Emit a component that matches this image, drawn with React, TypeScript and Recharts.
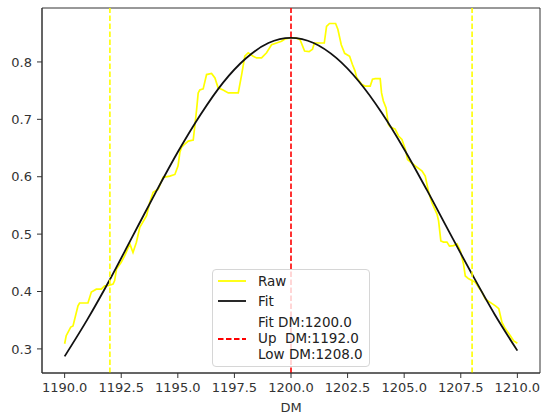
import React from 'react'
import {
  LineChart,
  Line,
  XAxis,
  YAxis,
  ReferenceLine,
  ReferenceArea,
  Legend,
} from 'recharts'

// raw profile
const rawDm = [
  1190.0, 1190.07, 1190.27, 1190.37, 1190.59, 1190.66, 1191.03, 1191.18, 1191.4, 1191.62,
  1191.77, 1191.92, 1192.14, 1192.21, 1192.29, 1192.5, 1192.65, 1192.88, 1193.02, 1193.17,
  1193.32, 1193.62, 1193.76, 1193.91, 1194.13, 1194.35, 1194.65, 1194.87, 1195.01, 1195.09,
  1195.16, 1195.31, 1195.46, 1195.68, 1195.75, 1195.83, 1195.9, 1195.97, 1196.12, 1196.27,
  1196.49, 1196.64, 1196.78, 1197.0, 1197.23, 1197.67, 1197.82, 1197.96, 1198.11, 1198.33,
  1198.48, 1198.7, 1198.92, 1199.14, 1199.36, 1199.58, 1199.73, 1199.96, 1200.2, 1200.4,
  1200.6, 1200.8, 1200.95, 1201.03, 1201.47, 1201.57, 1201.7, 1201.97, 1202.07, 1202.22,
  1202.37, 1202.59, 1202.71, 1202.83, 1202.9, 1203.12, 1203.27, 1203.5, 1203.6, 1203.72,
  1203.94, 1204.0, 1204.08, 1204.2, 1204.3, 1204.38, 1204.6, 1204.75, 1204.9, 1205.05,
  1205.15, 1205.3, 1205.49, 1205.79, 1205.93, 1206.07, 1206.22, 1206.45, 1206.52, 1206.62,
  1206.74, 1206.89, 1207.0, 1207.18, 1207.33, 1207.48, 1207.62, 1207.7, 1207.85, 1208.0,
  1208.14, 1208.29, 1208.44, 1208.58, 1208.8, 1209.03, 1209.18, 1209.32, 1209.47, 1209.69,
  1209.84, 1210.0,
]
const rawValue = [
  0.309, 0.323, 0.338, 0.34, 0.375, 0.38, 0.38, 0.399, 0.404, 0.404,
  0.41, 0.41, 0.413, 0.419, 0.439, 0.451, 0.462, 0.483, 0.468, 0.486,
  0.512, 0.532, 0.555, 0.573, 0.578, 0.599, 0.601, 0.604, 0.619, 0.642,
  0.651, 0.657, 0.662, 0.664, 0.688, 0.717, 0.746, 0.751, 0.753, 0.778,
  0.78, 0.772, 0.755, 0.751, 0.746, 0.746, 0.778, 0.81, 0.816, 0.81,
  0.807, 0.807, 0.816, 0.83, 0.833, 0.836, 0.84, 0.842, 0.842, 0.839,
  0.819, 0.818, 0.822, 0.833, 0.833, 0.862, 0.867, 0.867, 0.857, 0.83,
  0.815, 0.81, 0.796, 0.784, 0.773, 0.761, 0.758, 0.758, 0.77, 0.771,
  0.771, 0.746, 0.732, 0.72, 0.691, 0.687, 0.683, 0.671, 0.665, 0.648,
  0.63, 0.625, 0.619, 0.61, 0.601, 0.575, 0.555, 0.535, 0.523, 0.488,
  0.486, 0.486, 0.479, 0.48, 0.483, 0.471, 0.448, 0.427, 0.422, 0.419,
  0.416, 0.407, 0.399, 0.387, 0.381, 0.375, 0.37, 0.346, 0.335, 0.323,
  0.314, 0.31,
]

// fitted curve
const fitDm = [
  1190, 1191, 1192, 1193, 1194, 1195, 1196, 1197, 1198, 1199, 1200,
  1201, 1202, 1203, 1204, 1205, 1206, 1207, 1208, 1209, 1210,
]
const fitValue = [
  0.287, 0.351, 0.421, 0.496, 0.571, 0.643, 0.708, 0.764, 0.806, 0.833, 0.842,
  0.833, 0.807, 0.766, 0.712, 0.648, 0.577, 0.503, 0.43, 0.36, 0.297,
]

const fitDmMark = 1200.0
const upDm = 1192.0
const lowDm = 1208.0

const xTicks = [1190, 1192.5, 1195, 1197.5, 1200, 1202.5, 1205, 1207.5, 1210]
const yTicks = [0.3, 0.4, 0.5, 0.6, 0.7, 0.8]
const xDomain = [1189, 1211]
const yDomain = [0.258, 0.894]

const rawData = rawDm.map((dm, i) => ({ dm, value: rawValue[i] }))
const fitData = fitDm.map((dm, i) => ({ dm, value: fitValue[i] }))

const FONT = '"DejaVu Sans", sans-serif'
const AXIS = '#333'

function LegendBox() {
  const text: React.CSSProperties = {
    position: 'absolute',
    left: 45,
    fontSize: 13.5,
    color: '#222',
    whiteSpace: 'pre',
    lineHeight: '16px',
  }
  return (
    <div
      style={{
        position: 'relative',
        width: 158,
        height: 98,
        boxSizing: 'border-box',
        border: '1px solid #d6d6d6',
        borderRadius: 4,
        background: 'rgba(255,255,255,0.8)',
        fontFamily: FONT,
      }}
    >
      <svg width={40} height={98} style={{ position: 'absolute', left: 0, top: 0 }}>
        <line x1={5} x2={33} y1={11} y2={11} stroke="#ffff00" strokeWidth={1.8} />
        <line x1={5} x2={33} y1={31} y2={31} stroke="#111" strokeWidth={1.8} />
        <line x1={5} x2={33} y1={69} y2={69} stroke="#ff0000" strokeWidth={1.8} strokeDasharray="5.5 2.5" />
      </svg>
      <div style={{ ...text, top: 3 }}>Raw</div>
      <div style={{ ...text, top: 23 }}>Fit</div>
      <div style={{ ...text, top: 44 }}>
        {`Fit DM:${fitDmMark.toFixed(1)}\nUp  DM:${upDm.toFixed(1)}\nLow DM:${lowDm.toFixed(1)}`}
      </div>
    </div>
  )
}

export default function App() {
  return (
    <div style={{ position: 'absolute', left: 0, top: 0, width: 542, height: 414, background: '#fff', fontFamily: FONT }}>
      <LineChart width={542} height={414} margin={{ top: 8, right: 2, bottom: 0, left: 0 }}>
        <XAxis
          type="number"
          dataKey="dm"
          domain={xDomain}
          ticks={xTicks}
          allowDataOverflow
          tickFormatter={(v: number) => v.toFixed(1)}
          tick={{ fontSize: 13, fill: AXIS, fontFamily: FONT }}
          tickSize={5}
          tickMargin={5}
          height={41}
          stroke={AXIS}
          label={{ value: 'DM', position: 'insideBottom', offset: 2, fontSize: 13, fill: AXIS, fontFamily: FONT }}
        />
        <YAxis
          type="number"
          domain={yDomain}
          ticks={yTicks}
          allowDataOverflow
          tickFormatter={(v: number) => v.toFixed(1)}
          tick={{ fontSize: 13, fill: AXIS, fontFamily: FONT }}
          tickSize={5}
          tickMargin={5}
          width={42}
          stroke={AXIS}
        />
        <ReferenceArea x1={xDomain[0]} x2={xDomain[1]} y1={yDomain[0]} y2={yDomain[1]} fill="none" stroke={AXIS} strokeWidth={1} />
        <Line
          data={rawData}
          dataKey="value"
          type="linear"
          stroke="#ffff00"
          strokeWidth={1.7}
          dot={false}
          isAnimationActive={false}
        />
        <Line
          data={fitData}
          dataKey="value"
          type="monotone"
          stroke="#111"
          strokeWidth={1.8}
          dot={false}
          isAnimationActive={false}
        />
        <ReferenceLine x={upDm} stroke="#ffff00" strokeWidth={1.6} strokeDasharray="5.5 2.5" />
        <ReferenceLine x={lowDm} stroke="#ffff00" strokeWidth={1.6} strokeDasharray="5.5 2.5" />
        <ReferenceLine x={fitDmMark} stroke="#ff0000" strokeWidth={1.6} strokeDasharray="5.5 2.5" />
        <Legend
          layout="vertical"
          align="center"
          verticalAlign="middle"
          content={() => <LegendBox />}
          wrapperStyle={{ left: 212, top: 269, width: 158, height: 98 }}
        />
      </LineChart>
    </div>
  )
}
